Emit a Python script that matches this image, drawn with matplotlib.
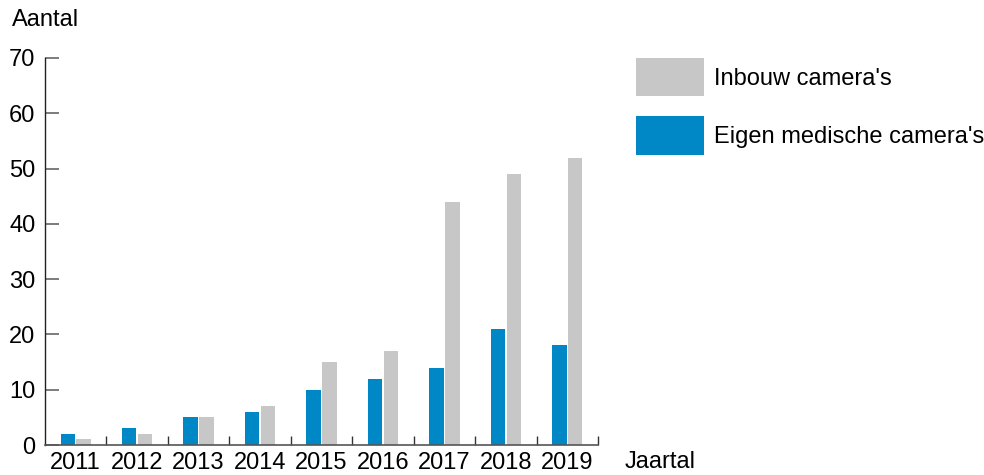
import matplotlib
matplotlib.use("Agg")
import matplotlib.pyplot as plt
import numpy as np
from matplotlib.patches import Patch

years = ["2011", "2012", "2013", "2014", "2015", "2016", "2017", "2018", "2019"]
eigen = [2, 3, 5, 6, 10, 12, 14, 21, 18]
inbouw = [1, 2, 5, 7, 15, 17, 44, 49, 52]
yticks = [0, 10, 20, 30, 40, 50, 60, 70]

BLUE = "#0087c5"
GREY = "#c6c7c6"
FS = 17

plt.rcParams["font.family"] = ["Liberation Sans", "DejaVu Sans"]
fig = plt.figure(figsize=(9.84, 4.75), dpi=100)
ax = fig.add_axes([45/984, 1-445/475, (598-45)/984, (445-58)/475])

x = np.arange(len(years))
w = 0.235
ax.bar(x - 0.13, eigen, width=w, color=BLUE, zorder=2)
ax.bar(x + 0.13, inbouw, width=w, color=GREY, zorder=2)

ax.set_xlim(-0.5, len(years) - 0.5)
ax.set_ylim(0, 70)
ax.set_yticks(yticks)
ax.set_yticklabels([str(v) for v in yticks], fontsize=FS)
ax.set_xticks(x)
ax.set_xticklabels(years, fontsize=FS)
ax.set_xticks(np.arange(len(years)) + 0.5, minor=True)
ax.tick_params(axis="x", which="major", length=0, pad=5)
ax.tick_params(axis="x", which="minor", length=6.5, direction="in", color="#333333", width=1)
ax.tick_params(axis="y", which="major", length=10, direction="in", color="#666666", width=1.2, pad=7)

for s in ["top", "right"]:
    ax.spines[s].set_visible(False)
ax.spines["left"].set_color("#222222")
ax.spines["bottom"].set_color("#555555")
ax.spines["left"].set_linewidth(1)
ax.spines["bottom"].set_linewidth(1.2)

fig.text(12/984, 1-20/475, "Aantal", fontsize=FS, va="center", ha="left")
fig.text(625/984, 1-462/475, "Jaartal", fontsize=FS, va="center", ha="left")

handles = [Patch(facecolor=GREY, edgecolor="none", label="Inbouw camera's"),
           Patch(facecolor=BLUE, edgecolor="none", label="Eigen medische camera's")]
leg = fig.legend(handles=handles, loc="upper left", bbox_to_anchor=(636/984, 1-58/475),
                 frameon=False, fontsize=FS, handlelength=2.88, handleheight=2.12,
                 handletextpad=0.42, labelspacing=0.85, borderpad=0, borderaxespad=0)

fig.savefig("out.png", dpi=100)
